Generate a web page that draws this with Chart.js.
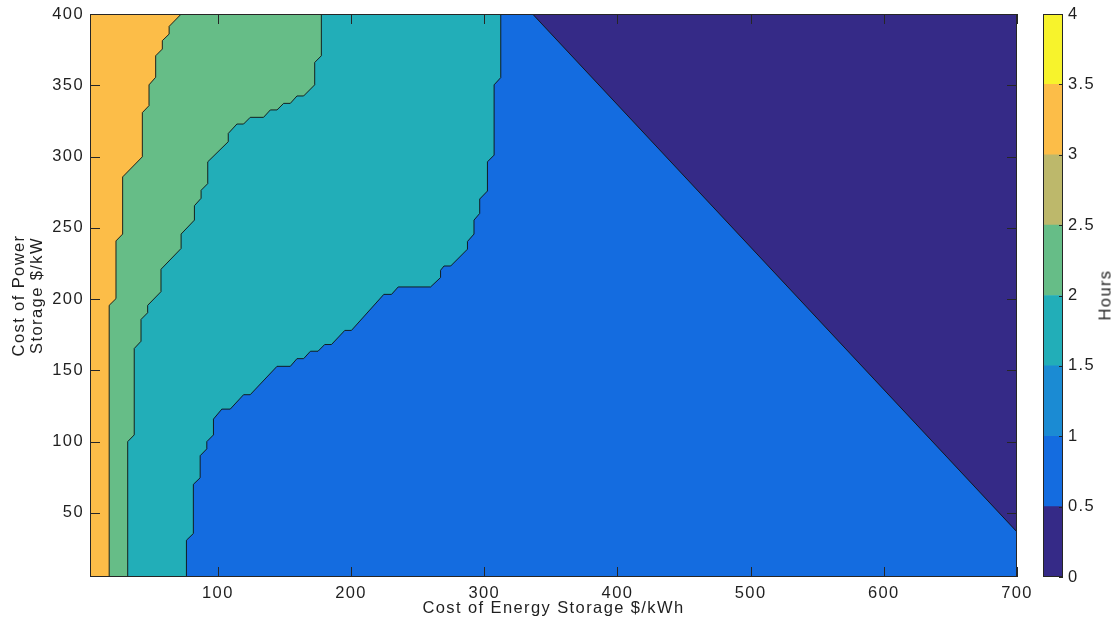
<!DOCTYPE html>
<html>
<head>
<meta charset="utf-8">
<script src="https://cdn.jsdelivr.net/npm/chart.js@4.4.1/dist/chart.umd.min.js"></script>
<style>
  html, body { margin: 0; padding: 0; background: #fff; }
  #wrap { position: relative; width: 1117px; height: 628px; overflow: hidden; }
  #main { position: absolute; left: 0; top: 0; }
  #cbar { position: absolute; left: 1030px; top: 0; }
  #hours {
    position: absolute; left: 1105px; top: 295px;
    transform: translate(-50%, -50%) rotate(-90deg);
    font: 16.5px "Liberation Sans", Arial, Helvetica, sans-serif;
    letter-spacing: 1.4px; color: #1f1f1f; white-space: nowrap;
  }
</style>
</head>
<body>
<div id="wrap">
  <canvas id="main" width="1117" height="628"></canvas>
  <canvas id="cbar" width="87" height="628"></canvas>
  <div id="hours">Hours</div>
</div>
<script>
// Axis extents ($/kWh on x, $/kW on y)
const xRange = [4, 700];
const yRange = [5, 400];
const xTicks = [100, 200, 300, 400, 500, 600, 700];
const yTicks = [50, 100, 150, 200, 250, 300, 350, 400];

// Storage duration levels (hours) and their band colours
const levels = [0, 0.5, 1, 1.5, 2, 2.5, 3, 3.5, 4];
const levelColors = ['#352a87', '#146ce0', '#1b8bd3', '#22aeb8', '#66bd87', '#bdb86b', '#fcbd48', '#f7f32c'];

// Contour edges [energy cost, power cost], bottom to top
const edge3h = [[18.4, 5], [18.4, 195.6], [23.5, 200.3], [23.5, 240.8], [28.5, 245.6], [28.5, 285.7],
  [43.3, 299.8], [43.3, 330.8], [48.3, 335.7], [48.3, 350.3], [53.3, 355.6], [53.3, 370.7],
  [58.3, 375.4], [58.3, 381.3], [63.4, 385.9], [63.4, 391.3], [72.5, 400]];

const edge2h = [[32.3, 5], [32.3, 100], [37.2, 104.7], [37.2, 165.3], [42.3, 170.4], [42.3, 185.7],
  [47.3, 190.4], [47.3, 195.6], [57.3, 205.2], [57.3, 220.9], [72.4, 235.5], [72.4, 245.6],
  [82.4, 255.4], [82.4, 265.5], [87.4, 270.7], [87.4, 276.3], [92.4, 281], [92.4, 296.3],
  [107.8, 310.4], [107.8, 316.2], [114.3, 322.8], [119.3, 322.8], [124.3, 327.5], [134.3, 327.5],
  [139.4, 332.7], [144.4, 332.7], [149.4, 337.3], [154.4, 337.3], [159.4, 342.5], [164.4, 342.5],
  [172.7, 350.3], [172.7, 366], [177.7, 370.7], [177.7, 400]];

const edge1h = [[76.4, 5], [76.4, 30.8], [81.6, 35.5], [81.6, 70], [86.7, 74.6], [86.7, 90.1],
  [91.7, 94.9], [91.7, 100], [96.7, 104.7], [96.7, 115.8], [103, 122.8], [109.3, 122.8],
  [119.3, 132.9], [124.3, 132.9], [144.4, 152.8], [154.4, 152.8], [159.4, 158.2], [164.4, 158.2],
  [169.5, 163.4], [175.2, 163.4], [180.2, 168.1], [185.3, 168.1], [195.3, 178], [200.3, 178],
  [224.6, 203.3], [230.4, 203.3], [235.4, 208.5], [259.7, 208.5], [267.2, 215.1], [267.2, 220.2],
  [269.8, 223.2], [274.8, 223.2], [287.4, 235], [287.4, 240.4], [292.3, 245.6], [292.3, 255.4],
  [296.6, 260.1], [296.6, 270.2], [302.4, 275.8], [302.4, 296.3], [307.4, 301], [307.4, 350.3],
  [312.4, 355.4], [312.4, 400]];

const edgeHalfHour = [[336.3, 400], [700, 36.6]];

const textColor = '#1f1f1f';
const lineColor = '#262626';
const font = { family: '"Liberation Sans", Arial, Helvetica, sans-serif', size: 16.5 };

const toPoints = arr => arr.map(([x, y]) => ({ x, y }));
// region to the left of an edge, closed along the left border of the plot
const leftOf = edge => toPoints([[xRange[0], yRange[0]], ...edge, [xRange[0], yRange[1]]]);

const region = (points, color, outlined) => ({
  data: points,
  backgroundColor: color,
  borderColor: '#111',
  borderWidth: outlined ? 0.9 : 0,
  fill: 'shape',
  showLine: true,
  pointRadius: 0,
  clip: 0
});

// keep the plot box fixed: labels may overhang it
const noOverhang = s => {
  s.paddingTop = 0; s.paddingBottom = 0; s.paddingLeft = 0; s.paddingRight = 0;
};

// letter spacing for all canvas text
const spacing = {
  id: 'spacing',
  beforeUpdate(chart) { chart.ctx.letterSpacing = '1.4px'; }
};

// boxed axes with inward ticks on all four sides
const axesBox = {
  id: 'axesBox',
  afterDatasetsDraw(chart) {
    const { ctx, chartArea: a, scales: { x, y } } = chart;
    const len = 10;
    ctx.save();
    ctx.strokeStyle = lineColor;
    ctx.lineWidth = 1;
    ctx.beginPath();
    x.ticks.forEach(t => {
      const px = Math.round(x.getPixelForValue(t.value)) + 0.5;
      ctx.moveTo(px, a.bottom); ctx.lineTo(px, a.bottom - len);
      ctx.moveTo(px, a.top); ctx.lineTo(px, a.top + len);
    });
    y.ticks.forEach(t => {
      const py = Math.round(y.getPixelForValue(t.value)) + 0.5;
      ctx.moveTo(a.left, py); ctx.lineTo(a.left + len, py);
      ctx.moveTo(a.right, py); ctx.lineTo(a.right - len, py);
    });
    ctx.stroke();
    ctx.strokeRect(a.left + 0.5, a.top + 0.5, a.right - a.left - 1, a.bottom - a.top - 1);
    ctx.restore();
  }
};

new Chart(document.getElementById('main'), {
  type: 'scatter',
  data: {
    datasets: [
      region(toPoints([...edgeHalfHour, [xRange[1], yRange[1]]]), levelColors[0], true),
      region(leftOf(edge3h), levelColors[6], true),
      region(leftOf(edge2h), levelColors[4], true),
      region(leftOf(edge1h), levelColors[3], true),
      region(toPoints([[xRange[0], yRange[0]], [xRange[1], yRange[0]], [xRange[1], yRange[1]], [xRange[0], yRange[1]]]), levelColors[1], false)
    ]
  },
  options: {
    responsive: false,
    animation: false,
    events: [],
    layout: { padding: { left: 0, top: 14, right: 100, bottom: 0 } },
    plugins: { legend: { display: false }, tooltip: { enabled: false } },
    scales: {
      x: {
        type: 'linear', min: xRange[0], max: xRange[1],
        afterBuildTicks: s => { s.ticks = xTicks.map(v => ({ value: v })); },
        afterFit: s => { s.height = 51; noOverhang(s); },
        grid: { display: false, drawTicks: false },
        border: { display: false },
        ticks: { padding: 7, font, color: textColor },
        title: { display: true, text: 'Cost of Energy Storage $/kWh', font, color: textColor, padding: { top: 0, bottom: 10 } }
      },
      y: {
        type: 'linear', min: yRange[0], max: yRange[1],
        afterBuildTicks: s => { s.ticks = yTicks.map(v => ({ value: v })); },
        afterFit: s => { s.width = 90; noOverhang(s); },
        grid: { display: false, drawTicks: false },
        border: { display: false },
        ticks: { padding: 6, font, color: textColor },
        title: { display: true, text: ['Cost of Power', 'Storage $/kW'], font: { ...font, lineHeight: 1.1 }, color: textColor, padding: { top: 10, bottom: 0 } }
      }
    }
  },
  plugins: [spacing, axesBox]
});

// colour bar
const barBox = {
  id: 'barBox',
  afterDatasetsDraw(chart) {
    const { ctx, chartArea: a, scales: { y } } = chart;
    ctx.save();
    ctx.strokeStyle = lineColor;
    ctx.lineWidth = 1;
    ctx.beginPath();
    levels.forEach(v => {
      const py = Math.round(y.getPixelForValue(v)) + 0.5;
      ctx.moveTo(a.right, py); ctx.lineTo(a.right - 4, py);
    });
    ctx.stroke();
    ctx.strokeRect(a.left + 0.5, a.top + 0.5, a.right - a.left - 1, a.bottom - a.top - 1);
    ctx.restore();
  }
};

new Chart(document.getElementById('cbar'), {
  type: 'bar',
  data: {
    labels: [''],
    datasets: levelColors.map((c, i) => ({
      data: [[levels[i], levels[i + 1]]],
      backgroundColor: c,
      borderWidth: 0,
      grouped: false,
      barPercentage: 1,
      categoryPercentage: 1
    }))
  },
  options: {
    responsive: false,
    animation: false,
    events: [],
    layout: { padding: { left: 13, top: 14, right: 0, bottom: 51 } },
    plugins: { legend: { display: false }, tooltip: { enabled: false } },
    scales: {
      x: { display: false },
      y: {
        position: 'right', min: levels[0], max: levels[levels.length - 1],
        afterBuildTicks: s => { s.ticks = levels.map(v => ({ value: v })); },
        afterFit: s => { s.width = 54; noOverhang(s); },
        grid: { display: false, drawTicks: false },
        border: { display: false },
        ticks: { padding: 5, font, color: textColor, callback: v => String(v) }
      }
    }
  },
  plugins: [spacing, barBox]
});
</script>
</body>
</html>
